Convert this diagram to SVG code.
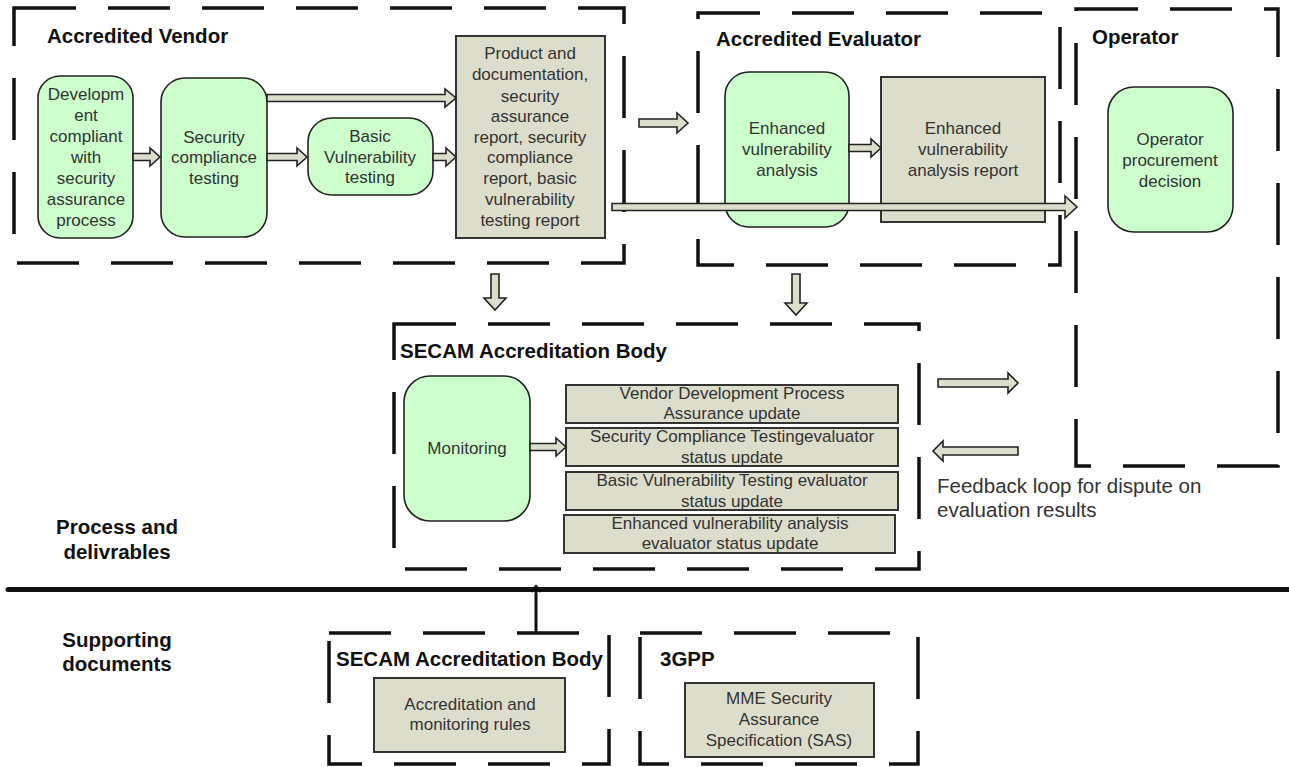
<svg xmlns="http://www.w3.org/2000/svg" width="1289" height="767" viewBox="0 0 1289 767">
  <style>
    .zone { fill: none; stroke: #111; stroke-width: 3.5; stroke-dasharray: 62 32; }
    .proc { fill: #ccffcc; stroke: #222; stroke-width: 1.6; }
    .doc { fill: #ddddcc; stroke: #333; stroke-width: 2; }
    .arrow { fill: #ddddcc; stroke: #222; stroke-width: 1.6; stroke-linejoin: miter; }
    .head { font-family: "Liberation Sans", Arial, sans-serif; font-weight: bold; font-size: 20.5px; fill: #111; }
    .lbl { font-family: "Liberation Sans", Arial, sans-serif; font-size: 17px; fill: #333; text-anchor: middle; }
    .note { font-family: "Liberation Sans", Arial, sans-serif; font-size: 20.5px; fill: #333; }
  </style>
  <defs>
    <!-- open chevron pointing along the line direction -->
    <marker id="tip" markerWidth="12" markerHeight="12" refX="8" refY="6" orient="auto" markerUnits="userSpaceOnUse">
      <path d="M2,1.5 L8,6 L2,10.5" fill="none" stroke="#111" stroke-width="2.2"/>
    </marker>
  </defs>

  <!-- section divider -->
  <line x1="8" y1="589.5" x2="1289" y2="589.5" stroke="#111" stroke-width="5" stroke-linecap="round"/>
  <text class="head" x="117" y="534" text-anchor="middle">Process and</text>
  <text class="head" x="117" y="559" text-anchor="middle">delivrables</text>
  <text class="head" x="117" y="647" text-anchor="middle">Supporting</text>
  <text class="head" x="117" y="671" text-anchor="middle">documents</text>

  <!-- Accredited Vendor -->
  <g id="vendor">
    <rect class="zone" x="14" y="8" width="610" height="255"/>
    <text class="head" x="47" y="43">Accredited Vendor</text>
  </g>
  <g id="development">
    <rect class="proc" x="38" y="76" width="95" height="162" rx="22"/>
    <text class="lbl" x="86" y="100">Developm</text>
    <text class="lbl" x="86" y="121">ent</text>
    <text class="lbl" x="86" y="142">compliant</text>
    <text class="lbl" x="86" y="163">with</text>
    <text class="lbl" x="86" y="184">security</text>
    <text class="lbl" x="86" y="205">assurance</text>
    <text class="lbl" x="86" y="226">process</text>
  </g>
  <g id="compliance-testing">
    <rect class="proc" x="161" y="78" width="106" height="159" rx="24"/>
    <text class="lbl" x="214" y="143">Security</text>
    <text class="lbl" x="214" y="163">compliance</text>
    <text class="lbl" x="214" y="184">testing</text>
  </g>
  <g id="basic-vuln">
    <rect class="proc" x="308" y="118" width="125" height="77" rx="24"/>
    <text class="lbl" x="370" y="142">Basic</text>
    <text class="lbl" x="370" y="163">Vulnerability</text>
    <text class="lbl" x="370" y="183">testing</text>
  </g>
  <g id="vendor-report">
    <rect class="doc" x="456" y="36" width="149" height="202"/>
    <text class="lbl" x="530" y="59">Product and</text>
    <text class="lbl" x="530" y="80">documentation,</text>
    <text class="lbl" x="530" y="102">security</text>
    <text class="lbl" x="530" y="122">assurance</text>
    <text class="lbl" x="530" y="143">report, security</text>
    <text class="lbl" x="530" y="163">compliance</text>
    <text class="lbl" x="530" y="184">report, basic</text>
    <text class="lbl" x="530" y="205">vulnerability</text>
    <text class="lbl" x="530" y="226">testing report</text>
  </g>

  <!-- Accredited Evaluator -->
  <g id="evaluator">
    <rect class="zone" x="698" y="13" width="362" height="252"/>
    <text class="head" x="716" y="46">Accredited Evaluator</text>
  </g>
  <g id="enhanced-analysis">
    <rect class="proc" x="725" y="72" width="124" height="155" rx="24"/>
    <text class="lbl" x="787" y="134">Enhanced</text>
    <text class="lbl" x="787" y="155">vulnerability</text>
    <text class="lbl" x="787" y="176">analysis</text>
  </g>
  <g id="enhanced-report">
    <rect class="doc" x="881" y="77" width="164" height="145"/>
    <text class="lbl" x="963" y="134">Enhanced</text>
    <text class="lbl" x="963" y="155">vulnerability</text>
    <text class="lbl" x="963" y="176">analysis report</text>
  </g>

  <!-- Operator -->
  <g id="operator">
    <rect class="zone" x="1076" y="9" width="202" height="457"/>
    <text class="head" x="1092" y="44">Operator</text>
  </g>
  <g id="procurement">
    <rect class="proc" x="1108" y="87" width="125" height="145" rx="26"/>
    <text class="lbl" x="1170" y="145">Operator</text>
    <text class="lbl" x="1170" y="166">procurement</text>
    <text class="lbl" x="1170" y="187">decision</text>
  </g>

  <!-- SECAM Accreditation Body (process) -->
  <g id="secam">
    <rect class="zone" x="394" y="324" width="525" height="245"/>
    <text class="head" x="400" y="358">SECAM Accreditation Body</text>
  </g>
  <g id="monitoring">
    <rect class="proc" x="404" y="376" width="126" height="145" rx="26"/>
    <text class="lbl" x="467" y="454">Monitoring</text>
  </g>
  <g id="update-vendor">
    <rect class="doc" x="566" y="385" width="332" height="38"/>
    <text class="lbl" x="732" y="399">Vendor Development Process</text>
    <text class="lbl" x="732" y="419">Assurance update</text>
  </g>
  <g id="update-compliance">
    <rect class="doc" x="566" y="428" width="332" height="38"/>
    <text class="lbl" x="732" y="442">Security Compliance Testingevaluator</text>
    <text class="lbl" x="732" y="463">status update</text>
  </g>
  <g id="update-basic">
    <rect class="doc" x="566" y="472" width="332" height="38"/>
    <text class="lbl" x="732" y="486">Basic Vulnerability Testing evaluator</text>
    <text class="lbl" x="732" y="507">status update</text>
  </g>
  <g id="update-enhanced">
    <rect class="doc" x="564" y="515" width="331" height="38"/>
    <text class="lbl" x="730" y="529">Enhanced vulnerability analysis</text>
    <text class="lbl" x="730" y="549">evaluator status update</text>
  </g>

  <!-- Supporting documents -->
  <g id="secam-docs">
    <rect class="zone" x="329" y="633" width="280" height="131"/>
    <text class="head" x="336" y="666">SECAM Accreditation Body</text>
  </g>
  <g id="rules">
    <rect class="doc" x="374" y="678" width="191" height="74"/>
    <text class="lbl" x="470" y="710">Accreditation and</text>
    <text class="lbl" x="470" y="730">monitoring rules</text>
  </g>
  <g id="threegpp">
    <rect class="zone" x="640" y="633" width="278" height="131"/>
    <text class="head" x="660" y="666">3GPP</text>
  </g>
  <g id="sas">
    <rect class="doc" x="685" y="683" width="189" height="74"/>
    <text class="lbl" x="779" y="704">MME Security</text>
    <text class="lbl" x="779" y="725">Assurance</text>
    <text class="lbl" x="779" y="746">Specification (SAS)</text>
  </g>

  <text class="note" x="937" y="493">Feedback loop for dispute on</text>
  <text class="note" x="937" y="517">evaluation results</text>

  <!-- connectors -->
  <g id="connectors">
    <!-- vendor internal flow -->
    <path class="arrow" d="M133,153.5 H150 V148 L160,157 L150,166 V160.5 H133 Z"/>
    <path class="arrow" d="M267,94.5 H445 V89 L456,98 L445,107 V101.5 H267 Z"/>
    <path class="arrow" d="M267,153.5 H297 V148 L307,157 L297,166 V160.5 H267 Z"/>
    <path class="arrow" d="M433,153.5 H446 V148 L456,157 L446,166 V160.5 H433 Z"/>
    <!-- vendor to evaluator -->
    <path class="arrow" d="M639,119 H677 V113 L688,123 L677,133 V127 H639 Z"/>
    <!-- evaluator internal -->
    <path class="arrow" d="M849,144.5 H871 V139 L881,148 L871,157 V151.5 H849 Z"/>
    <!-- vendor report to operator -->
    <path class="arrow" d="M612,203.5 H1065 V196 L1077,207 L1065,218 V210.5 H612 Z"/>
    <!-- down to SECAM -->
    <path class="arrow" d="M491,274 V298 H484 L495,310 L506,298 H499 V274 Z"/>
    <path class="arrow" d="M792,274 V303 H785 L796,315 L807,303 H800 V274 Z"/>
    <!-- monitoring to updates -->
    <path class="arrow" d="M530,443.5 H556 V438 L566,447 L556,456 V450.5 H530 Z"/>
    <!-- feedback loop -->
    <path class="arrow" d="M938,379 H1008 V373 L1018,383 L1008,393 V387 H938 Z"/>
    <path class="arrow" d="M1018,447 H943 V441 L933,451 L943,461 V455 H1018 Z"/>
    <!-- supporting docs up to process -->
    <line x1="536" y1="633" x2="536" y2="586" stroke="#111" stroke-width="3" marker-end="url(#tip)"/>
  </g>
</svg>
